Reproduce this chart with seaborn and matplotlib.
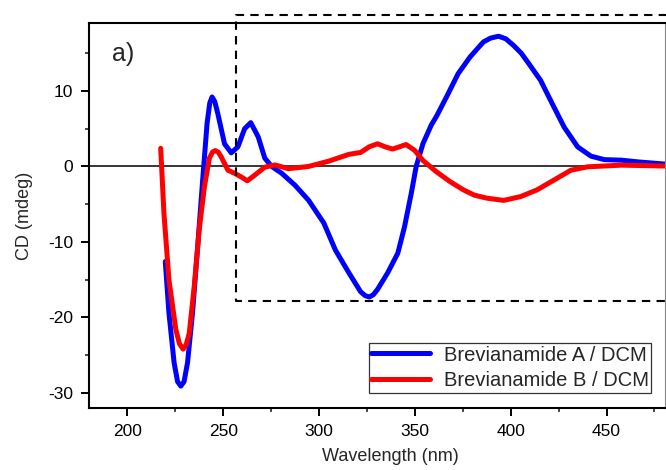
import numpy as np
import pandas as pd
import matplotlib
matplotlib.use("Agg")
import matplotlib.pyplot as plt
import seaborn as sns

# Brevianamide A / DCM
wl_a = [219.8, 221.7, 224.4, 226.2, 227.9, 229.6, 231.4, 234.0, 236.7, 239.3, 241.6,
        243.0, 244.2, 245.6, 247.2, 250.7, 254.2, 257.7, 261.2, 264.4, 268.3, 271.7,
        275.3, 280.5, 287.5, 294.6, 302.5, 308.6, 315.6, 321.7, 324.0, 326.2, 328.3,
        330.5, 335.8, 341.1, 344.6, 348.1, 350.7, 354.2, 358.6, 361.2, 366.5, 372.6,
        378.8, 385.8, 389.5, 393.7, 397.5, 401.6, 405.5, 409.5, 415.6, 421.7, 427.9,
        434.9, 441.9, 448.9, 457.7, 466.5, 483.0]
cd_a = [-12.6, -19.4, -26.0, -28.5, -29.1, -28.5, -26.0, -19.4, -10.6, -1.8, 5.7,
        8.4, 9.2, 8.6, 7.0, 3.0, 1.8, 2.6, 5.0, 5.8, 3.9, 1.1,
        0.0, -0.9, -2.5, -4.5, -7.5, -11.1, -14.1, -16.6, -17.1, -17.3, -17.0,
        -16.3, -14.1, -11.5, -8.0, -3.6, 0.0, 3.0, 5.5, 6.6, 9.2, 12.3,
        14.5, 16.5, 17.0, 17.25, 16.9, 16.0, 15.0, 13.6, 11.4, 8.3, 5.2,
        2.6, 1.36, 0.9, 0.83, 0.6, 0.26]

# Brevianamide B / DCM
wl_b = [217.4, 219.1, 221.7, 225.3, 227.2, 229.1, 230.7, 232.3, 234.9, 237.5, 240.2,
        242.8, 244.4, 245.9, 247.4, 248.9, 252.5, 255.9, 259.5, 262.6, 266.5, 271.7,
        277.0, 284.0, 294.6, 305.1, 315.6, 321.7, 326.2, 330.5, 334.5, 338.4, 342.0,
        345.4, 349.8, 354.2, 361.2, 368.3, 375.3, 381.0, 387.5, 396.3, 405.1, 413.8,
        422.6, 431.4, 440.2, 457.7, 483.0]
cd_b = [2.4, -6.2, -15.0, -21.6, -23.5, -24.2, -23.6, -22.1, -15.9, -8.4, -2.7,
        1.1, 1.9, 2.1, 1.9, 1.3, -0.5, -0.9, -1.4, -1.9, -1.15, -0.1,
        0.2, -0.3, 0.0, 0.7, 1.6, 1.85, 2.6, 3.0, 2.6, 2.3, 2.6,
        2.9, 2.15, 0.8, -0.7, -2.0, -3.1, -3.8, -4.2, -4.5, -4.0, -3.1,
        -1.8, -0.5, -0.05, 0.17, 0.04]

label_a = "Brevianamide A / DCM"
label_b = "Brevianamide B / DCM"

df = pd.concat([
    pd.DataFrame({"Wavelength": wl_a, "CD": cd_a, "Sample": label_a}),
    pd.DataFrame({"Wavelength": wl_b, "CD": cd_b, "Sample": label_b}),
], ignore_index=True)

sns.set_style("ticks")
plt.rcParams["font.family"] = ["Liberation Sans", "DejaVu Sans"]
plt.rcParams["axes.unicode_minus"] = False

fig = plt.figure(figsize=(6.66, 4.70), dpi=100)
ax = fig.add_axes([89 / 666, 62 / 470, 576 / 666, 385 / 470])

sns.lineplot(data=df, x="Wavelength", y="CD", hue="Sample",
             palette={label_a: "#0000ff", label_b: "#ff0000"},
             linewidth=3.6, estimator=None, sort=True, ax=ax)

ax.axhline(0, color="black", linewidth=1.1, zorder=1)

ax.set_xlim(180, 480.5)
ax.set_ylim(-32, 19)
ax.set_xticks([200, 250, 300, 350, 400, 450])
ax.set_xticks([225, 275, 325, 375, 425, 475], minor=True)
ax.set_yticks([-30, -20, -10, 0, 10])
ax.set_yticks([-25, -15, -5, 5, 15], minor=True)
ax.tick_params(which="major", direction="out", length=5.5, width=1.4, labelsize=12.5,
               colors="black", top=False, right=False)
ax.tick_params(axis="x", which="major", pad=6)
ax.tick_params(axis="y", which="major", pad=6)
ax.tick_params(which="minor", direction="out", length=3, width=1.2,
               top=False, right=False)
for sp in ax.spines.values():
    sp.set_linewidth(1.5)
    sp.set_color("black")
ax.spines["right"].set_linewidth(0.8)
ax.spines["right"].set_color("#888888")

ax.set_xlabel("Wavelength (nm)", fontsize=13, labelpad=9)
ax.set_ylabel("CD (mdeg)", fontsize=13, labelpad=11)
ax.xaxis.set_label_coords(0.5226, -0.105)

# dashed region box
ax.plot([481.5, 256.8, 256.8, 481.5], [20.0, 20.0, -17.8, -17.8],
        color="black", linestyle=(0, (4, 3)), linewidth=1.5, clip_on=False, zorder=3)

ax.text(0.040, 0.920, "a)", transform=ax.transAxes, fontsize=18,
        ha="left", va="center")

leg = ax.legend(loc="lower right", bbox_to_anchor=(0.976, 0.040), borderaxespad=0,
                fontsize=14.5, frameon=True, fancybox=False, edgecolor="black",
                handlelength=2.9, handletextpad=0.7, borderpad=0.12,
                labelspacing=0.33, title=None)
leg.get_frame().set_linewidth(0.9)
for line in leg.get_lines():
    line.set_linewidth(3.6)

fig.savefig("out.png", dpi=100)
